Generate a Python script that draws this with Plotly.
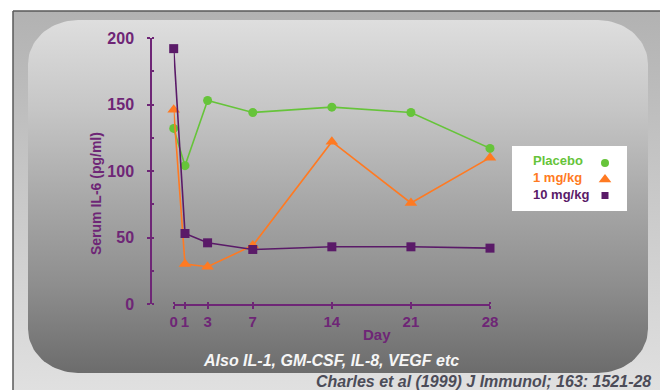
import numpy as np
import plotly.graph_objects as go

# ---------------- data ----------------
days = [0, 1, 3, 7, 14, 21, 28]
placebo = [132, 104, 153, 144, 148, 144, 117]
mg1 = [146, 30, 28, 44, 122, 76, 110]
mg10 = [192, 53, 46, 41, 43, 43, 42]
series_names = ["Placebo", "1 mg/kg", "10 mg/kg"]
x_ticks = [0, 1, 3, 7, 14, 21, 28]
y_ticks = [0, 25, 50, 75, 100, 125, 150, 175, 200]
y_ticktext = ["0", "", "50", "", "100", "", "150", "", "200"]

W, H = 660, 390
PURPLE_AX = "#6e2676"
PURPLE = "#5a1a68"
GREEN = "#66c43a"
ORANGE = "#ff7a22"
FONT = "Liberation Sans"


def rrect(x0, y0, x1, y1, rx, ry, n=24):
    xs, ys = [], []
    corners = [
        (x0 + rx, y0 + ry, np.pi, 1.5 * np.pi),
        (x1 - rx, y0 + ry, 1.5 * np.pi, 2 * np.pi),
        (x1 - rx, y1 - ry, 0, 0.5 * np.pi),
        (x0 + rx, y1 - ry, 0.5 * np.pi, np.pi),
    ]
    for cx, cy, a0, a1 in corners:
        t = np.linspace(a0, a1, n)
        xs += list(cx + rx * np.cos(t))
        ys += list(cy + ry * np.sin(t))
    xs.append(xs[0]); ys.append(ys[0])
    return xs, ys


fig = go.Figure()

# ---------- background decoration (pixel axes x/y) ----------
fig.add_trace(go.Scatter(
    x=[13, 661, 661, 13, 13], y=[11, 11, 391, 391, 11], xaxis="x", yaxis="y",
    mode="lines", fill="toself", line=dict(color="#5a5a5a", width=1.5),
    fillgradient=dict(type="vertical", start=11, stop=390,
                      colorscale=[[0, "#b2b2b2"], [1, "#e0e0e0"]]),
    hoverinfo="skip", showlegend=False, cliponaxis=False))
rx_, ry_ = rrect(28, 20, 648, 373, 50, 44)
fig.add_trace(go.Scatter(
    x=rx_, y=ry_, xaxis="x", yaxis="y", mode="lines", fill="toself",
    line=dict(width=0, color="rgba(0,0,0,0)"),
    fillgradient=dict(type="vertical", start=20, stop=373,
                      colorscale=[[0, "#dedede"], [0.25, "#c6c6c6"], [0.5, "#a9a9a9"],
                                  [0.75, "#8e8e8e"], [1, "#6c6c6c"]]),
    hoverinfo="skip", showlegend=False))
# legend box
fig.add_trace(go.Scatter(
    x=[512, 627, 627, 512, 512], y=[146, 146, 211, 211, 146], xaxis="x", yaxis="y",
    mode="lines", fill="toself", fillcolor="white", line=dict(width=0, color="white"),
    hoverinfo="skip", showlegend=False))
# legend symbols
leg_colors = [GREEN, ORANGE, PURPLE]
leg_symbols = ["circle", "triangle-up", "square"]
leg_sizes = [8, 11, 7]
leg_y = [163, 179.5, 195.5]
for c, s, sz, yy in zip(leg_colors, leg_symbols, leg_sizes, leg_y):
    fig.add_trace(go.Scatter(
        x=[605], y=[yy], xaxis="x", yaxis="y", mode="markers",
        marker=dict(color=c, symbol=s, size=sz, line=dict(width=0)),
        hoverinfo="skip", showlegend=False))

# ---------- data traces (x2/y2) ----------
for name, vals, col, sym, sz in [
    (series_names[0], placebo, GREEN, "circle", 9),
    (series_names[1], mg1, ORANGE, "triangle-up", 11),
    (series_names[2], mg10, PURPLE, "square", 9),
]:
    fig.add_trace(go.Scatter(
        x=days, y=vals, xaxis="x2", yaxis="y2", name=name,
        mode="lines+markers", cliponaxis=False,
        line=dict(color=col, width=1.6),
        marker=dict(color=col, symbol=sym, size=sz, line=dict(width=0)),
        showlegend=False))

# ---------- annotations ----------
ann = []
for txt, col, yy in zip(series_names, leg_colors, [160, 177.5, 194.5]):
    ann.append(dict(text="<b>%s</b>" % txt, x=531 / W, y=1 - yy / H, xref="paper", yref="paper",
                    xanchor="left", yanchor="middle", showarrow=False,
                    font=dict(family=FONT, size=13, color=col)))
ann.append(dict(text="<b>Serum IL-6 (pg/ml)</b>", x=96 / W, y=1 - 194 / H, xref="paper", yref="paper",
                textangle=-90, showarrow=False, xanchor="center", yanchor="middle",
                font=dict(family=FONT, size=14, color=PURPLE_AX)))
ann.append(dict(text="<b>Day</b>", x=377 / W, y=1 - 334 / H, xref="paper", yref="paper",
                showarrow=False, xanchor="center", yanchor="middle",
                font=dict(family=FONT, size=15, color=PURPLE_AX)))
ann.append(dict(text="<b><i>Also IL-1, GM-CSF, IL-8, VEGF etc</i></b>", x=331 / W, y=1 - 360 / H,
                xref="paper", yref="paper", showarrow=False, xanchor="center", yanchor="middle",
                font=dict(family=FONT, size=16, color="#f6f6f6")))
ann.append(dict(text="<b><i>Charles et al (1999) J Immunol; 163: 1521-28</i></b>", x=653 / W, y=1 - 381 / H,
                xref="paper", yref="paper", showarrow=False, xanchor="right", yanchor="middle",
                font=dict(family=FONT, size=16, color="#4c4c58")))

fig.update_layout(
    width=W, height=H, margin=dict(l=0, r=0, t=0, b=0, pad=0, autoexpand=False),
    paper_bgcolor="white", plot_bgcolor="rgba(0,0,0,0)",
    showlegend=False, annotations=ann,
    xaxis=dict(domain=[0, 1], range=[0, W], visible=False, fixedrange=True, automargin=False),
    yaxis=dict(domain=[0, 1], range=[H, 0], visible=False, fixedrange=True, automargin=False),
    xaxis2=dict(domain=[173.7 / W, 490 / W], range=[0, 28], anchor="y2", automargin=False,
                tickvals=x_ticks, ticktext=[str(t) for t in x_ticks],
                showline=True, linecolor=PURPLE_AX, linewidth=1.5,
                ticks="outside", ticklen=3, tickwidth=1.5, tickcolor=PURPLE_AX,
                minor=dict(tickvals=x_ticks, ticks="inside", ticklen=2, tickwidth=1.5, tickcolor=PURPLE_AX),
                showgrid=False, zeroline=False, ticklabelstandoff=0,
                tickfont=dict(family=FONT, size=15, color=PURPLE_AX, weight="bold")),
    yaxis2=dict(domain=[1 - 304 / H, 1 - 38 / H], range=[0, 200], anchor="free", automargin=False,
                position=151 / W, tickvals=y_ticks, ticktext=y_ticktext,
                showline=True, linecolor=PURPLE_AX, linewidth=1.5,
                ticks="outside", ticklen=3, tickwidth=1.5, tickcolor=PURPLE_AX,
                minor=dict(tickvals=y_ticks, ticks="inside", ticklen=2, tickwidth=1.5, tickcolor=PURPLE_AX),
                showgrid=False, zeroline=False, ticklabelstandoff=10,
                tickfont=dict(family=FONT, size=16, color=PURPLE_AX, weight="bold")),
)

fig.write_html("out.html", config={"displayModeBar": False},
               post_script="document.body.style.margin='0px';document.body.style.overflow='hidden';")
